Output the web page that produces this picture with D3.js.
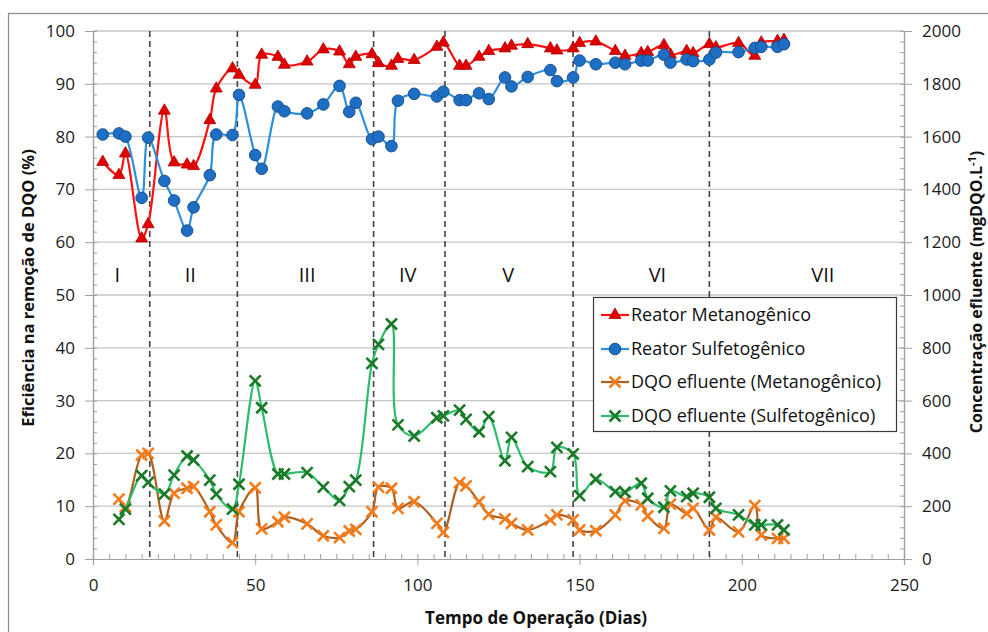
<!DOCTYPE html>
<html>
<head>
<meta charset="utf-8">
<script src="https://cdn.jsdelivr.net/npm/d3@7"></script>
<style>
  body { margin: 0; background: #fff; }
  text { font-family: "Open Sans", "Noto Sans", sans-serif; }
</style>
</head>
<body>
<svg id="chart" width="988" height="632"></svg>
<script>
// Sampling days (efficiency series)
const days = [3, 8, 10, 15, 17, 22, 25, 29, 31, 36, 38, 43, 45, 50, 52, 57, 59, 66, 71, 76,
  79, 81, 86, 88, 92, 94, 99, 106, 108, 113, 115, 119, 122, 127, 129, 134, 141, 143, 148, 150,
  155, 161, 164, 169, 171, 176, 178, 183, 185, 190, 192, 199, 204, 206, 211, 213];

// COD removal efficiency (%)
const effMetano = [75.2, 72.7, 76.8, 60.7, 63.4, 84.9, 75.1, 74.7, 74.4, 83.1, 89.1, 92.9, 91.7, 89.8, 95.5, 95.1, 93.6, 94.2, 96.5, 96.1,
  93.7, 95.1, 95.6, 93.9, 93.4, 94.7, 94.5, 97.0, 97.8, 93.4, 93.4, 95.1, 96.2, 96.7, 97.2, 97.5, 96.7, 96.3, 96.7, 97.7,
  98.0, 96.2, 95.3, 95.8, 96.0, 97.3, 95.5, 96.2, 95.8, 97.5, 96.9, 97.7, 95.3, 97.8, 98.1, 98.3];
const effSulfeto = [80.4, 80.6, 80.0, 68.4, 79.8, 71.6, 67.9, 62.2, 66.6, 72.7, 80.4, 80.3, 87.9, 76.5, 73.9, 85.7, 84.8, 84.4, 86.1, 89.6,
  84.7, 86.4, 79.5, 80.0, 78.2, 86.8, 88.1, 87.6, 88.5, 86.9, 86.9, 88.2, 87.1, 91.2, 89.5, 91.3, 92.6, 90.5, 91.2, 94.4,
  93.7, 94.0, 93.7, 94.4, 94.4, 95.5, 94.0, 94.6, 94.3, 94.6, 95.9, 96.0, 96.8, 97.0, 97.0, 97.5];

// Sampling days (effluent COD series)
const daysDQO = [8, 10, 15, 17, 22, 25, 29, 31, 36, 38, 43, 45, 50, 52, 57, 59, 66, 71, 76,
  79, 81, 86, 88, 92, 94, 99, 106, 108, 113, 115, 119, 122, 127, 129, 134, 141, 143, 148, 150,
  155, 161, 164, 169, 171, 176, 178, 183, 185, 190, 192, 199, 204, 206, 211, 213];

// Effluent COD concentration (mgDQO/L)
const dqoMetano = [227, 198, 394, 400, 144, 249, 268, 274, 179, 129, 62, 179, 270, 114, 141, 158, 133, 88, 81,
  106, 112, 179, 272, 268, 192, 217, 135, 101, 289, 277, 217, 169, 152, 135, 110, 148, 167, 148, 110,
  107, 167, 220, 205, 163, 116, 208, 173, 192, 110, 158, 103, 202, 91, 78, 78];
const dqoSulfeto = [150, 189, 316, 290, 246, 318, 390, 375, 299, 246, 189, 283, 675, 573, 322, 322, 327, 272, 222,
  274, 299, 741, 813, 890, 508, 466, 535, 542, 564, 529, 482, 539, 372, 461, 350, 331, 423, 398, 240,
  302, 255, 253, 287, 230, 196, 258, 236, 249, 234, 192, 167, 129, 129, 129, 110];

// Operational phases
const phaseBounds = [17.5, 44.5, 86.5, 108.5, 148, 190];
const phaseLabels = ["I", "II", "III", "IV", "V", "VI", "VII"];
const phaseLabelDays = [7.5, 30, 66, 97, 128, 174, 225];

// Axis ticks
const xTicks = [0, 50, 100, 150, 200, 250];
const leftTicks = [0, 10, 20, 30, 40, 50, 60, 70, 80, 90, 100];
const rightTicks = [0, 200, 400, 600, 800, 1000, 1200, 1400, 1600, 1800, 2000];

const legendNames = ["Reator Metanogênico", "Reator Sulfetogênico",
  "DQO efluente (Metanogênico)", "DQO efluente (Sulfetogênico)"];

const svg = d3.select("#chart");
const W = 988, H = 632;
const m = { left: 93, right: 904, top: 31, bottom: 559 };

const x = d3.scaleLinear().domain([0, 250]).range([m.left, m.right]);
const yL = d3.scaleLinear().domain([0, 100]).range([m.bottom, m.top]);
const yR = d3.scaleLinear().domain([0, 2000]).range([m.bottom, m.top]);

// Outer frame
svg.append("rect").attr("x", 8.5).attr("y", 13.5).attr("width", W).attr("height", H)
  .attr("fill", "none").attr("stroke", "#8c8c8c").attr("stroke-width", 1.2);

// Horizontal gridlines
svg.append("g").selectAll("line").data(leftTicks.filter(d => d > 0)).join("line")
  .attr("x1", m.left).attr("x2", m.right)
  .attr("y1", d => yL(d)).attr("y2", d => yL(d))
  .attr("stroke", "#c6c6c6").attr("stroke-width", 1.3);

// Axes
const axisColor = "#a0a0a0";
const fmt = d3.format("d");
const gx = svg.append("g").attr("transform", `translate(0,${m.bottom})`)
  .call(d3.axisBottom(x).tickValues(xTicks).tickSize(6).tickPadding(14).tickFormat(fmt));
const gxm = svg.append("g").attr("transform", `translate(0,${m.bottom})`)
  .call(d3.axisTop(x).tickValues(d3.range(0, 251, 5)).tickSize(5).tickFormat(""));
const gl = svg.append("g").attr("transform", `translate(${m.left},0)`)
  .call(d3.axisLeft(yL).tickValues(leftTicks).tickSize(8).tickPadding(10).tickFormat(fmt));
const glm = svg.append("g").attr("transform", `translate(${m.left},0)`)
  .call(d3.axisRight(yL).tickValues(d3.range(0, 101, 2)).tickSize(4).tickFormat(""));
const gr = svg.append("g").attr("transform", `translate(${m.right},0)`)
  .call(d3.axisRight(yR).tickValues(rightTicks).tickSize(8).tickPadding(10).tickFormat(fmt));
const grm = svg.append("g").attr("transform", `translate(${m.right},0)`)
  .call(d3.axisLeft(yR).tickValues(d3.range(0, 2001, 40)).tickSize(4).tickFormat(""));

[gx, gxm, gl, glm, gr, grm].forEach(g => {
  g.selectAll(".domain").attr("stroke", axisColor).attr("stroke-width", 1.2);
  g.selectAll(".tick line").attr("stroke", axisColor).attr("stroke-width", 1);
  g.selectAll(".tick text").attr("fill", "#1a1a1a").attr("font-size", 17)
    .attr("font-family", '"Open Sans", sans-serif');
});

// Phase dividers
svg.append("g").selectAll("line").data(phaseBounds).join("line")
  .attr("x1", d => x(d)).attr("x2", d => x(d))
  .attr("y1", m.top).attr("y2", m.bottom)
  .attr("stroke", "#444").attr("stroke-width", 1.6).attr("stroke-dasharray", "6,4");

// Phase labels
svg.append("g").selectAll("text").data(phaseLabels).join("text")
  .attr("x", (d, i) => x(phaseLabelDays[i]))
  .attr("y", yL(52.4))
  .attr("text-anchor", "middle").attr("font-size", 20).attr("fill", "#111")
  .text(d => d);

// Series
const curve = d3.curveCatmullRom.alpha(0.5);
const series = [
  { xs: days, ys: effMetano, y: yL, line: "#ff1010", mk: "tri", fill: "#e00000", stroke: "#b00000" },
  { xs: days, ys: effSulfeto, y: yL, line: "#2e8fdc", mk: "circ", fill: "#1c6fc4", stroke: "#1b4f8c" },
  { xs: daysDQO, ys: dqoMetano, y: yR, line: "#b0601e", mk: "x", fill: "#f47c1c", stroke: "#f47c1c" },
  { xs: daysDQO, ys: dqoSulfeto, y: yR, line: "#2dbd6a", mk: "x", fill: "#1a7a28", stroke: "#1a7a28" }
];

function drawMarker(g, type, cx, cy, s) {
  if (type === "tri") {
    g.append("path").attr("transform", `translate(${cx},${cy})`)
      .attr("d", d3.symbol(d3.symbolTriangle, 62)())
      .attr("fill", s.fill).attr("stroke", s.stroke).attr("stroke-width", 0.8);
  } else if (type === "circ") {
    g.append("circle").attr("cx", cx).attr("cy", cy).attr("r", 5.8)
      .attr("fill", s.fill).attr("stroke", s.stroke).attr("stroke-width", 1);
  } else {
    const r = 5.5;
    g.append("path")
      .attr("d", `M${cx - r},${cy - r}L${cx + r},${cy + r}M${cx - r},${cy + r}L${cx + r},${cy - r}`)
      .attr("stroke", s.stroke).attr("stroke-width", 2.6).attr("fill", "none");
  }
}

series.forEach(s => {
  const pts = s.xs.map((d, i) => [x(d), s.y(s.ys[i])]);
  const g = svg.append("g");
  g.append("path").attr("d", d3.line().curve(curve)(pts))
    .attr("fill", "none").attr("stroke", s.line).attr("stroke-width", 2.2);
  pts.forEach(p => drawMarker(g, s.mk, p[0], p[1], s));
});

// Legend
const lg = svg.append("g");
lg.append("rect").attr("x", 593.5).attr("y", 297.5).attr("width", 303).attr("height", 134)
  .attr("fill", "#fff").attr("stroke", "#3a3a3a").attr("stroke-width", 1.2);
const rowY = [315, 349, 382, 416];
series.forEach((s, i) => {
  const yy = rowY[i];
  lg.append("line").attr("x1", 601).attr("x2", 629).attr("y1", yy).attr("y2", yy)
    .attr("stroke", s.line).attr("stroke-width", 2.2);
  drawMarker(lg, s.mk, 615, yy, s);
  lg.append("text").attr("x", 631).attr("y", yy).attr("dy", "0.35em")
    .attr("font-size", 18).attr("fill", "#111").text(legendNames[i]);
});

// Axis titles
svg.append("text").attr("x", 536).attr("y", 624)
  .attr("text-anchor", "middle").attr("font-size", 17).attr("font-weight", "bold")
  .attr("fill", "#111").text("Tempo de Operação (Dias)");

svg.append("text").attr("transform", `translate(34,288) rotate(-90)`)
  .attr("text-anchor", "middle").attr("font-size", 16.5).attr("font-weight", "bold")
  .attr("fill", "#111").text("Eficiência na remoção de DQO (%)");

const rt = svg.append("text").attr("transform", `translate(982,292) rotate(-90)`)
  .attr("text-anchor", "middle").attr("font-size", 16).attr("font-weight", "bold")
  .attr("fill", "#111");
rt.append("tspan").text("Concentração efluente (mgDQO.L");
rt.append("tspan").attr("dy", -6).attr("font-size", 11).text("-1");
rt.append("tspan").attr("dy", 6).text(")");
</script>
</body>
</html>
